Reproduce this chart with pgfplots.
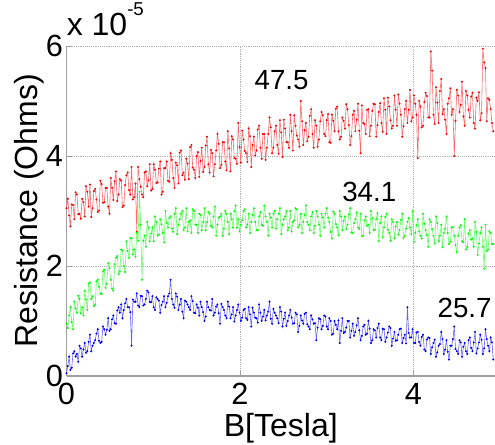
\documentclass[border=0pt]{standalone}
\usepackage{pgfplots}
\pgfplotsset{compat=1.18}
\usepackage{fontspec}
\setmainfont{Liberation Sans}
\definecolor{mred}{RGB}{255,0,0}
\definecolor{mgreen}{RGB}{0,255,0}
\definecolor{mblue}{RGB}{0,0,255}
\begin{document}
\begin{tikzpicture}
\begin{axis}[
  name=ax,
  at={(0,0)}, anchor=south west,
  scale only axis, width=321.4pt, height=247.5pt,
  xmin=0, xmax=4.94, ymin=0, ymax=6,
  xtick={0,2,4}, ytick={0,2,4,6},
  axis x line*=bottom, axis y line*=left,
  axis line style={-, gray!75, line width=0.9pt},
  tick align=inside, major tick length=4pt,
  tick style={gray!75, line width=0.6pt},
  grid=major, major grid style={densely dotted, gray!60, line width=0.5pt},
  /pgf/number format/assume math mode=true,
  tick label style={font=\fontsize{23}{25}\selectfont, text=black, inner sep=2.5pt},
  xticklabel style={yshift=-3pt},
  label style={font=\fontsize{24}{26}\selectfont, inner sep=0pt},
  xlabel={B[Tesla]}, ylabel={Resistance (Ohms)},
  xlabel style={at={(axis description cs:0.5,-0.1848)}, anchor=base},
  ylabel style={at={(axis description cs:-0.0688,0.5)}, anchor=base},
  title={x 10\raisebox{15pt}{\fontsize{14}{15}\selectfont -5}},
  title style={font=\fontsize{24}{26}\selectfont, inner sep=0pt, at={(axis description cs:0,1)}, anchor=base west, yshift=2pt},
  clip=true,
]
\addplot[mred!60, line width=0.45pt, mark=*, mark size=0.5pt, mark options={mred, fill=mred}] coordinates {
(0.00,3.05)(0.015,3.22)(0.03,2.92)(0.045,2.72)(0.06,3.12)(0.075,3.11)(0.09,2.85)(0.105,3.34)(0.12,3.30)(0.135,2.94)
(0.15,2.95)(0.165,2.86)(0.18,3.22)(0.195,3.16)(0.21,2.90)(0.225,3.45)(0.24,3.35)(0.255,3.08)(0.27,3.48)(0.285,2.89)
(0.30,3.05)(0.315,3.36)(0.33,3.40)(0.345,3.21)(0.36,2.98)(0.375,3.01)(0.39,3.55)(0.405,3.49)(0.42,3.15)(0.435,3.16)
(0.45,3.42)(0.465,3.42)(0.48,3.08)(0.495,2.95)(0.51,3.60)(0.525,3.42)(0.54,3.20)(0.555,3.54)(0.57,3.72)(0.585,3.18)
(0.60,3.30)(0.615,3.58)(0.63,3.55)(0.645,3.07)(0.66,3.10)(0.675,3.47)(0.69,3.65)(0.705,3.70)(0.72,3.38)(0.735,3.30)
(0.75,3.80)(0.765,3.21)(0.78,3.25)(0.795,3.50)(0.81,2.62)(0.825,3.80)(0.84,3.58)(0.855,3.44)(0.87,3.30)(0.885,3.25)
(0.90,3.70)(0.915,3.72)(0.93,3.45)(0.945,3.56)(0.96,3.85)(0.975,3.37)(0.99,3.40)(1.005,3.85)(1.02,3.75)(1.035,3.51)
(1.05,3.52)(1.065,3.77)(1.08,3.90)(1.095,3.30)(1.11,3.35)(1.125,3.78)(1.14,3.78)(1.155,3.90)(1.17,3.55)(1.185,3.53)
(1.20,4.05)(1.215,3.93)(1.23,3.60)(1.245,3.42)(1.26,3.88)(1.275,3.83)(1.29,3.50)(1.305,4.06)(1.32,4.10)(1.335,3.65)
(1.35,3.70)(1.365,3.57)(1.38,3.95)(1.395,3.86)(1.41,3.58)(1.425,4.16)(1.44,4.20)(1.455,3.79)(1.47,3.75)(1.485,3.60)
(1.50,4.00)(1.515,4.07)(1.53,3.62)(1.545,3.91)(1.56,4.15)(1.575,3.71)(1.59,3.80)(1.605,4.19)(1.62,4.35)(1.635,3.85)
(1.65,3.70)(1.665,4.11)(1.68,4.05)(1.695,3.63)(1.71,3.85)(1.725,4.10)(1.74,4.40)(1.755,4.22)(1.77,3.78)(1.785,3.84)
(1.80,4.25)(1.815,4.25)(1.83,3.90)(1.845,3.74)(1.86,4.45)(1.875,4.14)(1.89,3.72)(1.905,4.36)(1.92,4.30)(1.935,3.96)
(1.95,3.95)(1.965,3.86)(1.98,4.60)(1.995,4.16)(2.01,3.88)(2.025,4.46)(2.04,4.30)(2.055,4.09)(2.07,4.05)(2.085,3.89)
(2.10,4.50)(2.115,4.36)(2.13,3.80)(2.145,4.20)(2.16,4.35)(2.175,4.01)(2.19,4.10)(2.205,4.48)(2.22,4.55)(2.235,4.15)
(2.25,3.95)(2.265,4.40)(2.28,4.40)(2.295,3.93)(2.31,4.15)(2.325,4.40)(2.34,4.70)(2.355,4.52)(2.37,4.05)(2.385,4.15)
(2.40,4.45)(2.415,4.55)(2.43,4.20)(2.445,4.04)(2.46,4.65)(2.475,4.43)(2.49,3.98)(2.505,4.66)(2.52,4.50)(2.535,4.25)
(2.55,4.25)(2.565,4.15)(2.58,4.75)(2.595,4.45)(2.61,4.10)(2.625,4.74)(2.64,4.55)(2.655,4.37)(2.67,4.30)(2.685,4.17)
(2.70,5.00)(2.715,4.63)(2.73,4.20)(2.745,4.47)(2.76,4.60)(2.775,4.27)(2.79,4.35)(2.805,4.73)(2.82,4.85)(2.835,4.40)
(2.85,4.15)(2.865,4.65)(2.88,4.55)(2.895,4.17)(2.91,4.30)(2.925,4.63)(2.94,4.80)(2.955,4.74)(2.97,4.40)(2.985,4.36)
(3.00,4.65)(3.015,4.76)(3.03,4.25)(3.045,4.24)(3.06,4.75)(3.075,4.64)(3.09,4.45)(3.105,4.86)(3.12,4.90)(3.135,4.45)
(3.15,4.30)(3.165,4.35)(3.18,4.70)(3.195,4.64)(3.21,4.50)(3.225,4.94)(3.24,4.85)(3.255,4.56)(3.27,4.20)(3.285,4.36)
(3.30,4.75)(3.315,4.82)(3.33,4.45)(3.345,4.66)(3.36,4.95)(3.375,4.46)(3.39,4.05)(3.405,4.92)(3.42,4.60)(3.435,4.58)
(3.45,4.40)(3.465,4.84)(3.48,4.85)(3.495,4.36)(3.51,4.55)(3.525,4.82)(3.54,4.95)(3.555,4.94)(3.57,4.35)(3.585,4.56)
(3.60,4.80)(3.615,4.96)(3.63,4.60)(3.645,4.44)(3.66,5.05)(3.675,4.84)(3.69,4.40)(3.705,5.06)(3.72,4.90)(3.735,4.65)
(3.75,4.50)(3.765,4.55)(3.78,5.10)(3.795,4.84)(3.81,4.55)(3.825,5.12)(3.84,4.95)(3.855,4.75)(3.87,4.35)(3.885,4.54)
(3.90,4.85)(3.915,5.00)(3.93,4.60)(3.945,4.84)(3.96,5.20)(3.975,4.63)(3.99,4.70)(4.005,5.10)(4.02,4.95)(4.035,4.75)
(4.05,3.96)(4.065,5.00)(4.08,4.90)(4.095,4.52)(4.11,4.55)(4.125,4.98)(4.14,5.15)(4.155,5.09)(4.17,4.70)(4.185,4.70)
(4.20,5.90)(4.215,5.55)(4.23,4.75)(4.245,4.58)(4.26,5.25)(4.275,4.97)(4.29,4.60)(4.305,5.18)(4.32,5.40)(4.335,4.76)
(4.35,4.85)(4.365,4.66)(4.38,4.40)(4.395,4.95)(4.41,5.05)(4.425,5.23)(4.44,4.75)(4.455,4.85)(4.47,4.00)(4.485,4.64)
(4.50,5.20)(4.515,5.10)(4.53,4.80)(4.545,4.93)(4.56,5.35)(4.575,4.72)(4.59,4.55)(4.605,5.18)(4.62,5.10)(4.635,4.84)
(4.65,4.70)(4.665,5.08)(4.68,5.15)(4.695,4.60)(4.71,4.50)(4.725,5.06)(4.74,5.00)(4.755,5.16)(4.77,4.65)(4.785,4.78)
(4.80,5.95)(4.815,5.70)(4.83,5.60)(4.845,4.63)(4.86,5.05)(4.875,5.02)(4.89,4.85)(4.905,4.60)(4.92,4.45)
};
\addplot[mgreen!60, line width=0.45pt, mark=*, mark size=0.5pt, mark options={mgreen, fill=mgreen}] coordinates {
(0.00,0.95)(0.015,0.87)(0.03,1.10)(0.045,1.25)(0.06,0.98)(0.075,0.85)(0.09,1.35)(0.105,1.23)(0.12,1.15)(0.135,1.46)
(0.15,1.40)(0.165,1.14)(0.18,1.25)(0.195,1.10)(0.21,1.55)(0.225,1.39)(0.24,1.20)(0.255,1.68)(0.27,1.70)(0.285,1.40)
(0.30,1.45)(0.315,1.27)(0.33,1.30)(0.345,1.72)(0.36,1.75)(0.375,1.62)(0.39,1.50)(0.405,1.49)(0.42,1.90)(0.435,1.93)
(0.45,1.60)(0.465,1.68)(0.48,2.05)(0.495,1.96)(0.51,1.75)(0.525,1.59)(0.54,1.55)(0.555,2.03)(0.57,2.15)(0.585,2.18)
(0.60,1.85)(0.615,1.90)(0.63,2.30)(0.645,2.28)(0.66,2.00)(0.675,1.89)(0.69,2.45)(0.705,2.27)(0.72,2.15)(0.735,2.51)
(0.75,2.50)(0.765,2.21)(0.78,2.30)(0.795,2.17)(0.81,2.60)(0.825,2.46)(0.84,3.35)(0.855,2.75)(0.87,1.75)(0.885,2.46)
(0.90,2.55)(0.915,2.35)(0.93,2.80)(0.945,2.70)(0.96,2.45)(0.975,2.59)(0.99,2.70)(1.005,2.45)(1.02,2.90)(1.035,2.80)
(1.05,2.55)(1.065,2.57)(1.08,2.85)(1.095,2.76)(1.11,2.60)(1.125,2.43)(1.14,3.00)(1.155,2.78)(1.17,2.70)(1.185,2.87)
(1.20,2.90)(1.215,2.68)(1.23,2.62)(1.245,2.95)(1.26,3.05)(1.275,2.58)(1.29,2.75)(1.305,2.85)(1.32,2.95)(1.335,3.00)
(1.35,2.65)(1.365,2.70)(1.38,3.05)(1.395,2.63)(1.41,2.80)(1.425,2.83)(1.44,2.60)(1.455,3.03)(1.47,3.00)(1.485,2.75)
(1.50,2.75)(1.515,2.60)(1.53,2.95)(1.545,2.93)(1.56,2.65)(1.575,2.80)(1.59,3.05)(1.605,2.65)(1.62,2.80)(1.635,2.98)
(1.65,2.95)(1.665,2.73)(1.68,2.70)(1.695,2.90)(1.71,3.08)(1.725,2.55)(1.74,2.75)(1.755,2.88)(1.77,2.90)(1.785,2.95)
(1.80,2.55)(1.815,2.68)(1.83,3.00)(1.845,2.95)(1.86,2.80)(1.875,2.58)(1.89,2.95)(1.905,2.85)(1.92,2.70)(1.935,3.00)
(1.95,3.10)(1.965,2.70)(1.98,2.85)(1.995,2.63)(2.01,2.75)(2.025,2.83)(2.04,3.00)(2.055,3.03)(2.07,2.70)(2.085,2.75)
(2.10,2.95)(2.115,2.60)(2.13,2.80)(2.145,2.93)(2.16,3.05)(2.175,2.80)(2.19,2.65)(2.205,2.65)(2.22,2.90)(2.235,2.98)
(2.25,2.75)(2.265,2.73)(2.28,3.10)(2.295,2.90)(2.31,2.80)(2.325,2.55)(2.34,2.95)(2.355,2.88)(2.37,2.70)(2.385,2.95)
(2.40,3.00)(2.415,2.68)(2.43,2.85)(2.445,2.95)(2.46,3.05)(2.475,2.58)(2.49,2.75)(2.505,2.85)(2.52,2.90)(2.535,3.00)
(2.55,2.65)(2.565,2.70)(2.58,3.00)(2.595,2.63)(2.61,2.80)(2.625,2.83)(2.64,3.05)(2.655,3.03)(2.67,2.70)(2.685,2.75)
(2.70,2.95)(2.715,2.60)(2.73,2.80)(2.745,2.93)(2.76,3.10)(2.775,2.80)(2.79,2.75)(2.805,2.65)(2.82,2.90)(2.835,2.98)
(2.85,2.60)(2.865,2.73)(2.88,3.00)(2.895,2.90)(2.91,2.75)(2.925,2.55)(2.94,2.95)(2.955,2.88)(2.97,2.70)(2.985,2.95)
(3.00,3.05)(3.015,2.88)(3.03,2.80)(3.045,2.62)(3.06,2.50)(3.075,2.99)(3.09,2.95)(3.105,2.76)(3.12,2.70)(3.135,2.56)
(3.15,3.00)(3.165,2.90)(3.18,2.65)(3.195,2.82)(3.21,2.90)(3.225,2.67)(3.24,2.75)(3.255,2.94)(3.27,3.05)(3.285,2.61)
(3.30,2.60)(3.315,2.78)(3.33,2.85)(3.345,2.97)(3.36,2.70)(3.375,2.67)(3.39,2.95)(3.405,2.54)(3.42,2.55)(3.435,2.83)
(3.45,2.90)(3.465,2.73)(3.48,2.75)(3.495,2.60)(3.51,3.00)(3.525,2.87)(3.54,2.65)(3.555,2.66)(3.57,2.85)(3.585,2.96)
(3.60,2.45)(3.615,2.78)(3.63,2.90)(3.645,2.52)(3.66,2.70)(3.675,2.89)(3.69,2.95)(3.705,2.66)(3.72,2.60)(3.735,2.46)
(3.75,2.85)(3.765,2.80)(3.78,2.50)(3.795,2.72)(3.81,2.80)(3.825,2.57)(3.84,2.65)(3.855,2.84)(3.87,2.95)(3.885,2.51)
(3.90,2.55)(3.915,2.68)(3.93,2.80)(3.945,2.87)(3.96,2.70)(3.975,2.58)(3.99,3.00)(4.005,2.44)(4.02,2.60)(4.035,2.74)
(4.05,2.85)(4.065,2.63)(4.08,2.55)(4.095,2.50)(4.11,2.95)(4.125,2.77)(4.14,2.65)(4.155,2.56)(4.17,2.35)(4.185,2.85)
(4.20,2.80)(4.215,2.67)(4.23,2.55)(4.245,2.41)(4.26,2.90)(4.275,2.78)(4.29,2.45)(4.305,2.55)(4.32,2.75)(4.335,2.34)
(4.35,2.60)(4.365,2.68)(4.38,2.90)(4.395,2.60)(4.41,2.40)(4.425,2.44)(4.44,2.70)(4.455,2.71)(4.47,2.55)(4.485,2.38)
(4.50,2.25)(4.515,2.55)(4.53,2.70)(4.545,2.74)(4.56,2.45)(4.575,2.43)(4.59,2.85)(4.605,2.30)(4.62,2.35)(4.635,2.59)
(4.65,2.65)(4.665,2.48)(4.68,2.50)(4.695,2.35)(4.71,2.80)(4.725,2.62)(4.74,2.20)(4.755,2.41)(4.77,2.60)(4.785,2.70)
(4.80,2.35)(4.815,1.95)(4.83,2.75)(4.845,2.27)(4.86,2.30)(4.875,2.63)(4.89,2.60)(4.905,2.40)(4.92,2.40)
};
\addplot[mblue!60, line width=0.45pt, mark=*, mark size=0.5pt, mark options={mblue, fill=mblue}] coordinates {
(0.00,0.05)(0.015,0.18)(0.03,0.35)(0.045,0.11)(0.06,0.15)(0.075,0.41)(0.09,0.45)(0.105,0.35)(0.12,0.40)(0.135,0.26)
(0.15,0.55)(0.165,0.50)(0.18,0.35)(0.195,0.48)(0.21,0.60)(0.225,0.42)(0.24,0.45)(0.255,0.62)(0.27,0.75)(0.285,0.45)
(0.30,0.55)(0.315,0.60)(0.33,0.65)(0.345,0.77)(0.36,0.85)(0.375,0.64)(0.39,0.60)(0.405,0.62)(0.42,0.90)(0.435,0.85)
(0.45,0.75)(0.465,0.84)(0.48,1.05)(0.495,0.82)(0.51,0.85)(0.525,1.03)(0.54,1.10)(0.555,0.96)(0.57,0.95)(0.585,1.19)
(0.60,1.25)(0.615,1.15)(0.63,1.30)(0.645,1.05)(0.66,1.20)(0.675,1.32)(0.69,1.40)(0.705,1.25)(0.72,1.25)(0.735,1.16)
(0.75,0.55)(0.765,1.39)(0.78,1.35)(0.795,1.35)(0.81,1.50)(0.825,1.28)(0.84,1.25)(0.855,1.46)(0.87,1.45)(0.885,1.28)
(0.90,1.30)(0.915,1.40)(0.93,1.55)(0.945,1.52)(0.96,1.35)(0.975,1.34)(0.99,1.45)(1.005,1.25)(1.02,1.20)(1.035,1.43)
(1.05,1.40)(1.065,1.37)(1.08,1.15)(1.095,1.29)(1.11,1.35)(1.125,1.45)(1.14,1.25)(1.155,1.33)(1.17,1.45)(1.185,1.50)
(1.20,1.75)(1.215,1.40)(1.23,1.30)(1.245,1.24)(1.26,1.50)(1.275,1.44)(1.29,1.20)(1.305,1.30)(1.32,1.40)(1.335,1.17)
(1.35,1.05)(1.365,1.37)(1.38,1.35)(1.395,1.30)(1.41,1.25)(1.425,1.20)(1.44,1.45)(1.455,1.36)(1.47,1.15)(1.485,1.14)
(1.50,1.30)(1.515,1.24)(1.53,1.10)(1.545,1.35)(1.56,1.25)(1.575,1.16)(1.59,1.00)(1.605,1.08)(1.62,1.35)(1.635,1.25)
(1.65,1.20)(1.665,1.19)(1.68,1.40)(1.695,1.10)(1.71,1.15)(1.725,1.26)(1.74,1.30)(1.755,1.14)(1.77,0.95)(1.785,1.31)
(1.80,1.25)(1.815,1.20)(1.83,1.10)(1.845,1.05)(1.86,1.35)(1.875,1.26)(1.89,1.05)(1.905,1.12)(1.92,1.25)(1.935,0.99)
(1.95,1.10)(1.965,1.20)(1.98,1.30)(1.995,1.15)(2.01,1.00)(2.025,1.06)(2.04,1.20)(2.055,1.22)(2.07,1.05)(2.085,1.02)
(2.10,1.25)(2.115,1.12)(2.13,0.90)(2.145,1.24)(2.16,1.15)(2.175,1.06)(2.19,1.05)(2.205,0.97)(2.22,1.30)(2.235,1.15)
(2.25,1.00)(2.265,1.08)(2.28,1.20)(2.295,1.01)(2.31,1.10)(2.325,1.17)(2.34,1.35)(2.355,1.04)(2.37,0.95)(2.385,1.22)
(2.40,1.15)(2.415,1.10)(2.43,1.05)(2.445,0.96)(2.46,1.25)(2.475,1.17)(2.49,0.90)(2.505,1.04)(2.52,1.15)(2.535,0.91)
(2.55,1.00)(2.565,1.10)(2.58,1.20)(2.595,1.06)(2.61,0.95)(2.625,0.96)(2.64,1.15)(2.655,1.12)(2.67,0.80)(2.685,0.91)
(2.70,1.10)(2.715,1.01)(2.73,0.95)(2.745,1.13)(2.76,1.15)(2.775,0.94)(2.79,0.90)(2.805,0.85)(2.82,1.10)(2.835,1.03)
(2.85,0.95)(2.865,0.96)(2.88,0.65)(2.895,0.88)(2.91,1.05)(2.925,1.03)(2.94,0.85)(2.955,0.91)(2.97,1.10)(2.985,1.08)
(3.00,0.90)(3.015,0.85)(3.03,1.05)(3.045,1.00)(3.06,0.75)(3.075,0.77)(3.09,1.00)(3.105,0.93)(3.12,0.85)(3.135,1.01)
(3.15,0.60)(3.165,0.82)(3.18,1.05)(3.195,0.78)(3.21,0.80)(3.225,0.88)(3.24,1.00)(3.255,1.00)(3.27,0.70)(3.285,0.82)
(3.30,0.95)(3.315,0.73)(3.33,0.80)(3.345,0.92)(3.36,1.05)(3.375,0.83)(3.39,0.65)(3.405,0.73)(3.42,0.90)(3.435,0.93)
(3.45,0.75)(3.465,0.77)(3.48,1.00)(3.495,0.86)(3.51,0.60)(3.525,0.65)(3.54,0.85)(3.555,0.83)(3.57,0.70)(3.585,0.87)
(3.60,0.95)(3.615,0.70)(3.63,0.65)(3.645,0.86)(3.66,0.85)(3.675,0.62)(3.69,0.70)(3.705,0.79)(3.72,0.90)(3.735,0.87)
(3.75,0.55)(3.765,0.68)(3.78,0.80)(3.795,0.64)(3.81,0.65)(3.825,0.75)(3.84,0.85)(3.855,0.86)(3.87,0.60)(3.885,0.69)
(3.90,0.75)(3.915,0.59)(3.93,1.25)(3.945,0.78)(3.96,0.70)(3.975,0.70)(3.99,0.85)(4.005,0.60)(4.02,0.60)(4.035,0.79)
(4.05,0.80)(4.065,0.62)(4.08,0.55)(4.095,0.71)(4.11,0.75)(4.125,0.48)(4.14,0.45)(4.155,0.66)(4.17,0.70)(4.185,0.69)
(4.20,0.40)(4.215,0.52)(4.23,0.60)(4.245,0.66)(4.26,0.35)(4.275,0.43)(4.29,0.55)(4.305,0.58)(4.32,0.80)(4.335,0.67)
(4.35,0.40)(4.365,0.48)(4.38,0.65)(4.395,0.44)(4.41,0.30)(4.425,0.55)(4.44,0.55)(4.455,0.67)(4.47,0.90)(4.485,0.49)
(4.50,0.45)(4.515,0.40)(4.53,0.65)(4.545,0.61)(4.56,0.35)(4.575,0.53)(4.59,0.60)(4.605,0.45)(4.62,0.40)(4.635,0.65)
(4.65,0.70)(4.665,0.51)(4.68,0.45)(4.695,0.61)(4.71,0.80)(4.725,0.41)(4.74,0.50)(4.755,0.61)(4.77,0.75)(4.785,0.66)
(4.80,0.40)(4.815,0.50)(4.83,0.85)(4.845,0.67)(4.86,0.55)(4.875,0.45)(4.89,0.70)(4.905,0.61)(4.92,0.30)
};
\node[font=\fontsize{20.8}{22}\selectfont] at (axis cs:2.48,5.38) {47.5};
\node[font=\fontsize{20.8}{22}\selectfont] at (axis cs:3.49,3.35) {34.1};
\node[font=\fontsize{20.8}{22}\selectfont] at (axis cs:4.59,1.24) {25.7};
\end{axis}
\pgfresetboundingbox
\path[use as bounding box] (-49.9pt,-51.75pt) rectangle (321.4pt,282pt);
\end{tikzpicture}
\end{document}
